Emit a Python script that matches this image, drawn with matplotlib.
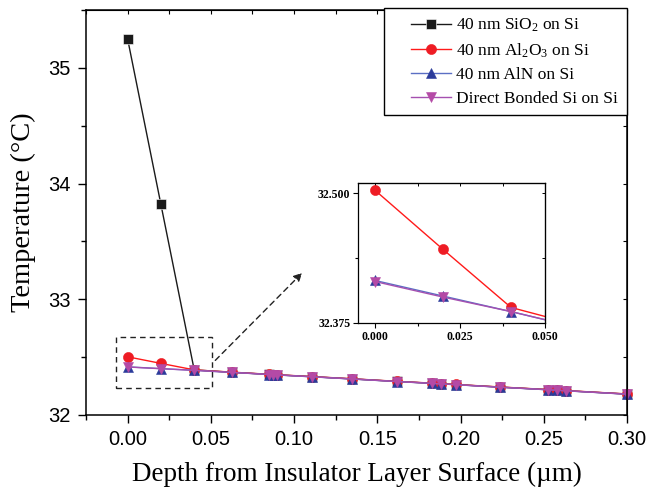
import matplotlib
matplotlib.use("Agg")
import matplotlib.pyplot as plt
from matplotlib.patches import Rectangle
from matplotlib.ticker import MultipleLocator, FixedLocator
from matplotlib.legend_handler import HandlerLine2D

plt.rcParams['mathtext.fontset'] = 'custom'
plt.rcParams['mathtext.rm'] = 'Liberation Serif'
plt.rcParams['mathtext.default'] = 'rm'

# ---- data ----
depth = [0.0, 0.02, 0.04, 0.063, 0.085, 0.0875, 0.09, 0.111, 0.135, 0.162,
         0.183, 0.1885, 0.197, 0.224, 0.2525, 0.258, 0.2635, 0.30]
t_sio2 = [35.25, 33.82, 32.390, 32.369, 32.351, 32.349, 32.347, 32.331, 32.312, 32.290,
          32.274, 32.270, 32.263, 32.241, 32.219, 32.215, 32.210, 32.181]
t_al2o3 = [32.503, 32.446, 32.390, 32.370, 32.352, 32.350, 32.348, 32.332, 32.313, 32.291,
           32.275, 32.271, 32.264, 32.242, 32.220, 32.216, 32.211, 32.182]
t_aln = [32.416, 32.401, 32.386, 32.368, 32.350, 32.348, 32.346, 32.330, 32.311, 32.289,
         32.273, 32.269, 32.262, 32.240, 32.218, 32.214, 32.209, 32.180]
t_si = [32.415, 32.400, 32.386, 32.368, 32.350, 32.348, 32.346, 32.330, 32.311, 32.289,
        32.273, 32.269, 32.262, 32.240, 32.218, 32.214, 32.209, 32.180]

labels = ['40 nm SiO$_2$ on Si', '40 nm Al$_2$O$_3$ on Si',
          '40 nm AlN on Si', 'Direct Bonded Si on Si']
x_ticks = [0.00, 0.05, 0.10, 0.15, 0.20, 0.25, 0.30]
x_ticklabels = ['0.00', '0.05', '0.10', '0.15', '0.20', '0.25', '0.30']
y_ticks = [32, 33, 34, 35]
inset_xticks = [0.000, 0.025, 0.050]
inset_xticklabels = ['0.000', '0.025', '0.050']
inset_yticks = [32.375, 32.500]
inset_yticklabels = ['32.375', '32.500']

series = [
    (t_sio2, dict(color='#1a1a1a', marker='s', mfc='#1a1a1a', mec='white', ms=7, mew=0.4)),
    (t_al2o3, dict(color='#ff1a1a', marker='o', mfc='#ee1c24', mec='#ee1c24', ms=7.3, mew=0.4)),
    (t_aln, dict(color='#5b6fc4', marker='^', mfc='#2b3b9a', mec='#2b3b9a', ms=7.3, mew=0.4)),
    (t_si, dict(color='#a550b0', marker='v', mfc='#b44aa6', mec='#b44aa6', ms=7.3, mew=0.4)),
]

fig = plt.figure(figsize=(6.48, 4.91), dpi=100)
ax = fig.add_axes([86/648, 1-415/491, (627-86)/648, (415-10)/491])

lines = []
for (vals, st), lab in zip(series, labels):
    ln, = ax.plot(depth, vals, lw=1.0, label=lab, clip_on=False, **st)
    lines.append(ln)

ax.set_xlim(-0.025, 0.30)
ax.set_ylim(32, 35.5)
ax.xaxis.set_major_locator(FixedLocator(x_ticks))
ax.set_xticklabels(x_ticklabels)
ax.xaxis.set_minor_locator(MultipleLocator(0.025))
ax.yaxis.set_major_locator(FixedLocator(y_ticks))
ax.yaxis.set_minor_locator(MultipleLocator(0.5))
for lbl in ax.get_xticklabels() + ax.get_yticklabels():
    lbl.set_fontfamily('Liberation Sans')
    lbl.set_fontsize(14.5)
ax.tick_params(which='major', direction='out', length=6, width=1.0, pad=5)
ax.tick_params(which='minor', direction='out', length=3.5, width=1.0)
for sp in ax.spines.values():
    sp.set_linewidth(1.1)

# inward ticks on top & right
axt = ax.secondary_xaxis('top')
axt.xaxis.set_major_locator(FixedLocator(x_ticks))
axt.xaxis.set_minor_locator(MultipleLocator(0.025))
axt.tick_params(which='both', direction='in', length=3, width=0.8, labeltop=False)
axr = ax.secondary_yaxis('right')
axr.yaxis.set_major_locator(FixedLocator(y_ticks))
axr.yaxis.set_minor_locator(MultipleLocator(0.5))
axr.tick_params(which='both', direction='in', length=3, width=0.8, labelright=False)

ax.set_xlabel('Depth from Insulator Layer Surface (µm)', fontfamily='Liberation Serif',
              fontsize=19.5, labelpad=9)
ax.set_ylabel('Temperature (°C)', fontfamily='Liberation Serif', fontsize=20.5, labelpad=9)

hmap = {ln: HandlerLine2D(xpad=1.1) for ln in lines}
leg = ax.legend(handles=lines, loc='upper right', bbox_to_anchor=(1.0, 1.005), borderaxespad=0,
                prop={'family': 'Liberation Serif', 'size': 12.5}, fancybox=False,
                edgecolor='black', framealpha=1, handlelength=3.4, labelspacing=0.42,
                borderpad=0.5, handletextpad=0.3, handler_map=hmap)
leg.get_frame().set_linewidth(1.0)

# dashed zoom rectangle and arrow
ax.add_patch(Rectangle((-0.007, 32.23), 0.0577, 0.445, fill=False, ls=(0, (4, 3)),
                       lw=1.0, ec='#222222'))
ax.annotate('', xy=(0.106, 33.245), xytext=(0.0515, 32.455),
            arrowprops=dict(arrowstyle='-|>', ls=(0, (4, 3)), lw=1.0, color='#222222',
                            mutation_scale=12))

# inset (SiO2 curve not shown)
axin = fig.add_axes([358/648, 1-323/491, (545-358)/648, (323-183)/491])
for (vals, st) in series[1:]:
    axin.plot(depth, vals, lw=1.0, **st)
axin.set_xlim(-0.005, 0.050)
axin.set_ylim(32.375, 32.51)
axin.xaxis.set_major_locator(FixedLocator(inset_xticks))
axin.set_xticklabels(inset_xticklabels)
axin.xaxis.set_minor_locator(MultipleLocator(0.0125))
axin.yaxis.set_major_locator(FixedLocator(inset_yticks))
axin.set_yticklabels(inset_yticklabels)
axin.yaxis.set_minor_locator(MultipleLocator(0.0625))
for lbl in axin.get_xticklabels() + axin.get_yticklabels():
    lbl.set_fontfamily('Liberation Serif')
    lbl.set_fontweight('bold')
    lbl.set_fontsize(8.5)
axin.tick_params(which='major', direction='out', length=3.5, width=0.8, pad=2)
axin.tick_params(which='minor', direction='out', length=2, width=0.8)
for sp in axin.spines.values():
    sp.set_linewidth(0.9)
ait = axin.secondary_xaxis('top')
ait.xaxis.set_major_locator(FixedLocator(inset_xticks))
ait.xaxis.set_minor_locator(MultipleLocator(0.0125))
ait.tick_params(which='both', direction='in', length=2, width=0.7, labeltop=False)
air = axin.secondary_yaxis('right')
air.yaxis.set_major_locator(FixedLocator(inset_yticks))
air.yaxis.set_minor_locator(MultipleLocator(0.0625))
air.tick_params(which='both', direction='in', length=2, width=0.7, labelright=False)

fig.savefig('out.png', dpi=100)
